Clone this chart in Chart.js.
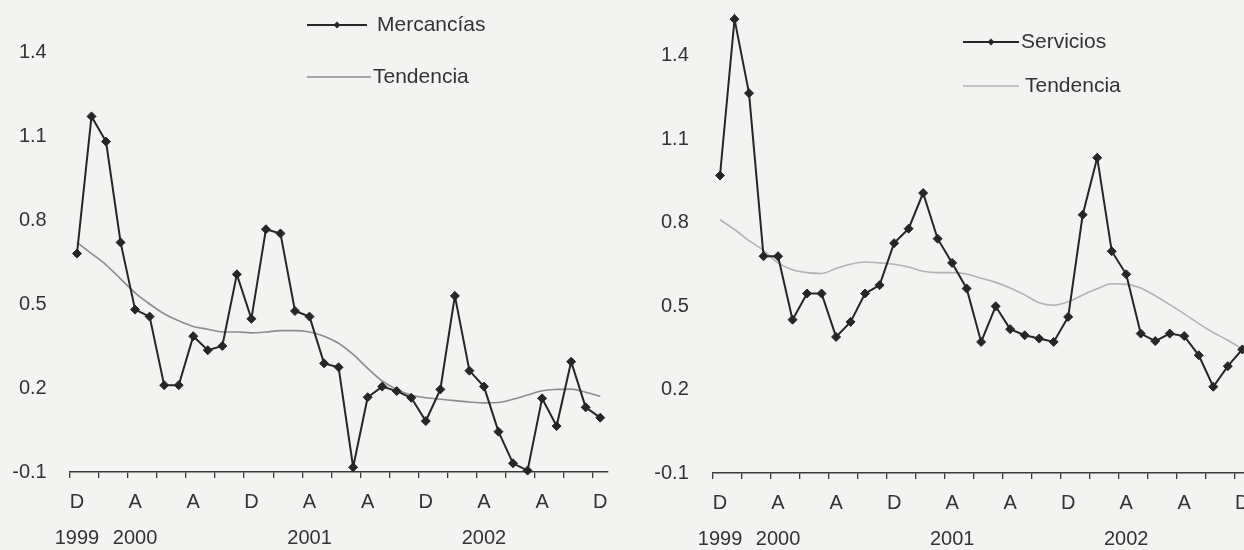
<!DOCTYPE html>
<html>
<head>
<meta charset="utf-8">
<script src="https://cdn.jsdelivr.net/npm/chart.js@4.4.1/dist/chart.umd.min.js"></script>
<style>
  html, body { margin: 0; padding: 0; background: #f3f3f1; }
  body { width: 1244px; height: 550px; overflow: hidden; position: relative; }
  .caja { position: absolute; top: 0; height: 550px; }
  #cajaIzq { left: 0; width: 620px; }
  #cajaDer { left: 620px; width: 640px; }
</style>
</head>
<body>
<div class="caja" id="cajaIzq"><canvas id="graficoMercancias"></canvas></div>
<div class="caja" id="cajaDer"><canvas id="graficoServicios"></canvas></div>
<script>
// meses de dic 1999 a dic 2002
const letrasMes = ["D","","","","A","","","","A","","","","D","","","","A","","","","A","","","","D","","","","A","","","","A","","","","D"];
const anios = ["1999","","","","2000","","","","","","","","","","","","2001","","","","","","","","","","","","2002","","","","","","","",""];
const ticksY = [-0.1, 0.2, 0.5, 0.8, 1.1, 1.4];

const mercancias = [0.68, 1.17, 1.08, 0.72, 0.48, 0.455, 0.21, 0.21, 0.385, 0.335,
    0.35, 0.606, 0.447, 0.767, 0.752, 0.475, 0.455, 0.288, 0.274, -0.083,
    0.167, 0.205, 0.189, 0.165, 0.082, 0.195, 0.529, 0.262, 0.205, 0.044,
    -0.069, -0.095, 0.163, 0.064, 0.294, 0.131, 0.094];
const tendenciaMercancias = [0.72, 0.68, 0.64, 0.59, 0.54, 0.50, 0.465, 0.44, 0.42, 0.41,
    0.40, 0.40, 0.397, 0.40, 0.405, 0.405, 0.40, 0.385, 0.36, 0.32,
    0.27, 0.225, 0.195, 0.175, 0.165, 0.16, 0.155, 0.15, 0.147, 0.148,
    0.16, 0.175, 0.19, 0.195, 0.196, 0.185, 0.17];

const servicios = [0.969, 1.531, 1.265, 0.679, 0.679, 0.451, 0.545, 0.545, 0.389, 0.443,
    0.545, 0.575, 0.726, 0.778, 0.906, 0.742, 0.655, 0.563, 0.371, 0.499,
    0.417, 0.395, 0.383, 0.371, 0.461, 0.828, 1.033, 0.697, 0.614, 0.401,
    0.374, 0.401, 0.392, 0.323, 0.21, 0.284, 0.344];
const tendenciaServicios = [0.81, 0.775, 0.735, 0.70, 0.655, 0.63, 0.62, 0.617, 0.635, 0.65,
    0.658, 0.655, 0.65, 0.64, 0.625, 0.62, 0.62, 0.615, 0.60, 0.585,
    0.565, 0.54, 0.512, 0.503, 0.515, 0.54, 0.562, 0.58, 0.578, 0.565,
    0.537, 0.505, 0.472, 0.437, 0.405, 0.377, 0.345];

const FUENTE = "'Liberation Sans', Arial, sans-serif";
const TEXTO = '#333';

// leyenda dibujada a mano, una entrada por dataset
const leyendaManual = {
    id: 'leyendaManual',
    afterDraw(chart, args, opts) {
        const ctx = chart.ctx;
        chart.data.datasets.forEach((ds, i) => {
            const it = opts.items[i];
            ctx.save();
            ctx.strokeStyle = ds.borderColor;
            ctx.lineWidth = ds.borderWidth;
            ctx.beginPath();
            ctx.moveTo(it.x, it.y);
            ctx.lineTo(it.x + it.len, it.y);
            ctx.stroke();
            if (ds.pointRadius > 0) {
                const cx = it.x + it.len / 2, r = 3.5;
                ctx.fillStyle = ds.pointBackgroundColor;
                ctx.beginPath();
                ctx.moveTo(cx, it.y - r);
                ctx.lineTo(cx + r, it.y);
                ctx.lineTo(cx, it.y + r);
                ctx.lineTo(cx - r, it.y);
                ctx.closePath();
                ctx.fill();
            }
            ctx.fillStyle = TEXTO;
            ctx.font = opts.size + 'px ' + FUENTE;
            ctx.textBaseline = 'middle';
            ctx.fillText(ds.label, it.x + it.len + it.gap, it.y);
            ctx.restore();
        });
    }
};

function crearGrafico(id, etiqueta, serie, tendencia, colorTend, cfg) {
    return new Chart(document.getElementById(id), {
        type: 'line',
        data: {
            labels: letrasMes,
            datasets: [{
                label: etiqueta,
                data: serie,
                borderColor: '#262626',
                borderWidth: 2,
                pointStyle: 'rectRot',
                pointRadius: 4.5,
                pointBackgroundColor: '#262626',
                pointBorderColor: '#262626',
                pointBorderWidth: 1,
                tension: 0,
                clip: false
            }, {
                label: 'Tendencia',
                data: tendencia,
                borderColor: colorTend,
                borderWidth: 1.6,
                pointRadius: 0,
                tension: 0.4,
                cubicInterpolationMode: 'monotone',
                clip: false
            }]
        },
        options: {
            responsive: false,
            animation: false,
            events: [],
            layout: { padding: { left: 0, right: cfg.padDer, top: cfg.padSup, bottom: 0 } },
            plugins: {
                legend: { display: false },
                tooltip: { enabled: false },
                leyendaManual: { items: cfg.leyenda, size: 21 }
            },
            scales: {
                x: {
                    offset: true,
                    afterFit: s => { s.height = cfg.altoX; },
                    border: { display: true, color: '#3a3a3a', width: 1.5 },
                    grid: {
                        offset: true,
                        drawOnChartArea: false,
                        drawTicks: true,
                        tickLength: 6,
                        lineWidth: 1.3,
                        color: c => (c.index !== undefined && c.index % 2 === 0) ? '#3a3a3a' : 'rgba(0,0,0,0)'
                    },
                    ticks: {
                        autoSkip: false,
                        maxRotation: 0,
                        padding: 6,
                        color: TEXTO,
                        font: { family: FUENTE, size: 20, lineHeight: 1.8 },
                        callback: (v, i) => anios[i] ? [letrasMes[i], anios[i]] : letrasMes[i]
                    }
                },
                y: {
                    min: -0.1,
                    max: cfg.maxY,
                    afterFit: s => {
                        s.width = cfg.anchoY;
                        s.paddingTop = 0;
                        s.paddingBottom = 0;
                    },
                    afterBuildTicks: s => { s.ticks = ticksY.map(v => ({ value: v })); },
                    border: { display: false },
                    grid: { display: false, drawTicks: false },
                    ticks: {
                        padding: cfg.padY,
                        color: TEXTO,
                        font: { family: FUENTE, size: 20 },
                        callback: v => v.toFixed(1)
                    }
                }
            }
        },
        plugins: [leyendaManual]
    });
}

function prepararCanvas(id, ancho, alto) {
    const c = document.getElementById(id);
    c.width = ancho; c.height = alto;
    c.style.width = ancho + 'px'; c.style.height = alto + 'px';
}

prepararCanvas('graficoMercancias', 620, 550);
prepararCanvas('graficoServicios', 640, 550);

crearGrafico('graficoMercancias', 'Mercancías', mercancias, tendenciaMercancias, '#8c8c8c', {
    padDer: 12.5, padSup: 10, altoX: 78, anchoY: 69.7, maxY: 1.55, padY: 23,
    leyenda: [{ x: 307, y: 25, len: 60, gap: 10 }, { x: 307, y: 77, len: 64, gap: 2 }]
});

crearGrafico('graficoServicios', 'Servicios', servicios, tendenciaServicios, '#b2b2b2', {
    padDer: 10.45, padSup: 5, altoX: 77, anchoY: 92.75, maxY: 1.58, padY: 24,
    leyenda: [{ x: 343, y: 42, len: 56, gap: 2 }, { x: 343, y: 86, len: 56, gap: 6 }]
});
</script>
</body>
</html>
